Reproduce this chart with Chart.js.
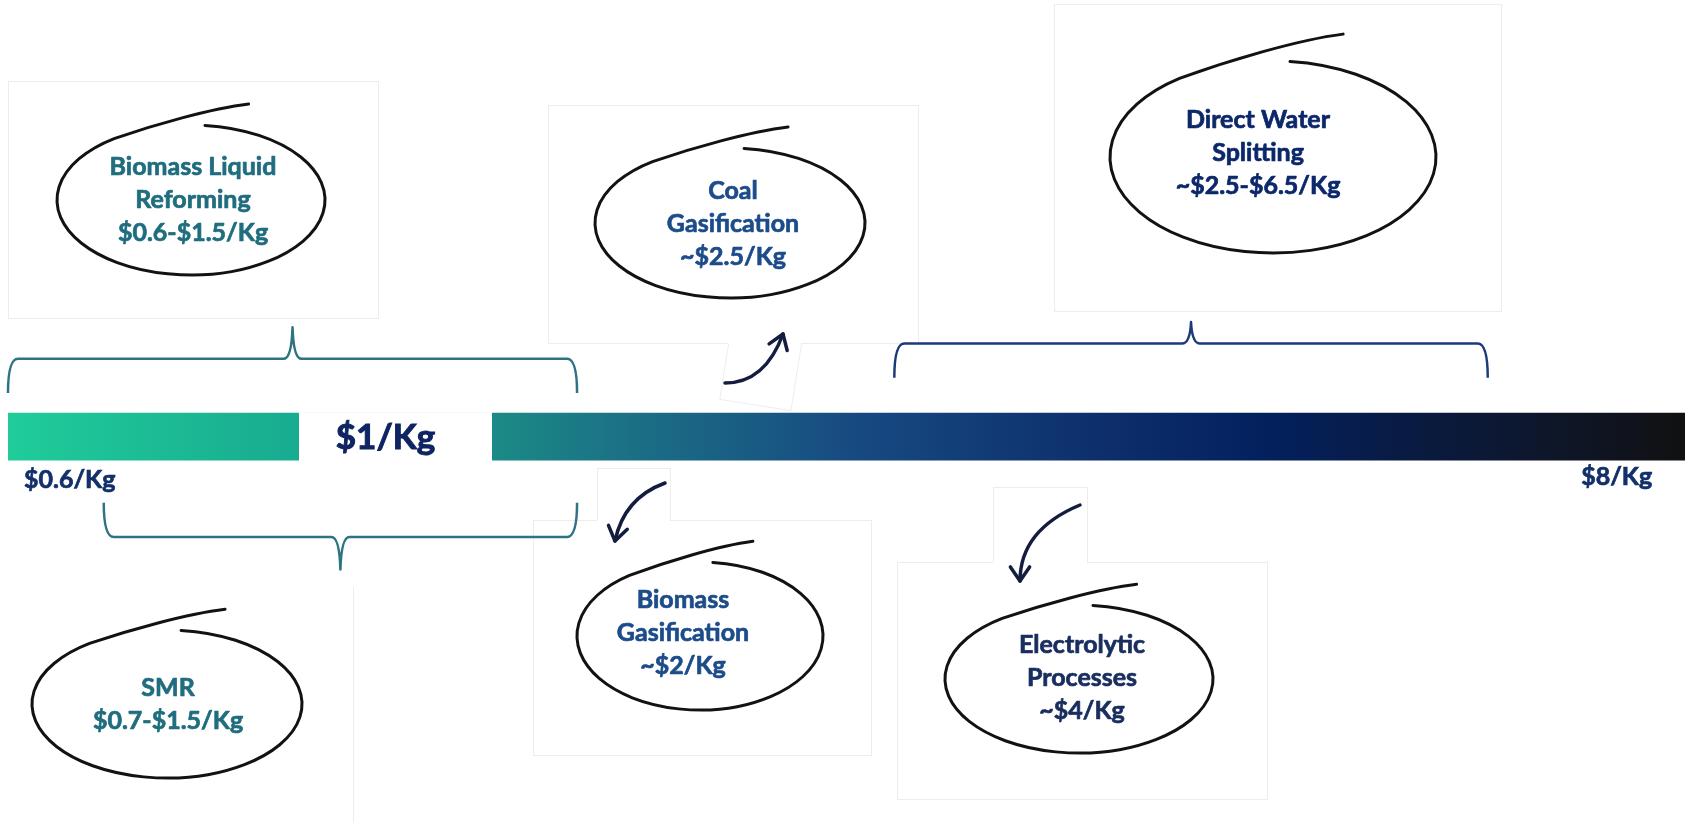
<!DOCTYPE html>
<html>
<head>
<meta charset="utf-8">
<title>Hydrogen production cost by process</title>
<script src="https://cdn.jsdelivr.net/npm/chart.js@4.4.1/dist/chart.umd.min.js"></script>
<style>
  html, body { margin: 0; padding: 0; background: #fff; }
  canvas { display: block; }
</style>
</head>
<body>
<canvas id="costChart" width="1689" height="823"></canvas>
<script>
// ---- data ----
const processNames = [
  "Biomass Liquid\nReforming",
  "SMR",
  "Direct Water\nSplitting",
  "Coal\nGasification",
  "Biomass\nGasification",
  "Electrolytic\nProcesses",
];
const costLow = [0.6, 0.7, 2.5, 2.5, 2, 4];
const costHigh = [1.5, 1.5, 6.5, 2.5, 2, 4];
const costLabels = [
  "$0.6-$1.5/Kg",
  "$0.7-$1.5/Kg",
  "~$2.5-$6.5/Kg",
  "~$2.5/Kg",
  "~$2/Kg",
  "~$4/Kg",
];
const scaleValues = [0.6, 1, 8];
const scaleLabels = ["$0.6/Kg", "$1/Kg", "$8/Kg"];

// ---- axis bounds / layout / styles ----
const AXIS_MIN = 0.6;
const AXIS_MAX = 8.93;

const FONT = "Lato, 'Open Sans', sans-serif";
const BAR = { y: 439.5, thickness: 47 };
const GAP = { left: 299, right: 492 }; // white box holding "$1/Kg"

const LAYOUT = [
  { ell: [191, 200, 134, 75], text: [193, 175], box: [8, 81, 370, 237], brace: [391, 353, 318] },
  { ell: [167, 704, 135, 74], text: [168, 696], edge: [353, 587, 823], brace: [513, 551, 587] },
  { ell: [1273, 157, 163, 96], text: [1258, 128], box: [1054, 4, 447, 307], brace: [374, 336, 312] },
  { ell: [730, 223, 135, 75], text: [733, 199], box: [548, 105, 370, 238],
    tab: { cx: 762, cy: 360, w: 72, h: 90, rot: 9 }, arrow: [725, 383, 765, 383, 783, 334] },
  { ell: [700, 636, 123, 74], text: [683, 608], box: [533, 520, 338, 235],
    tab: { cx: 633.5, cy: 494, w: 73, h: 52, rot: 0 }, arrow: [665, 483, 624, 498, 615, 541] },
  { ell: [1079, 679, 134, 74], text: [1082, 653], box: [897, 562, 370, 237],
    tab: { cx: 1040, cy: 524.5, w: 94, h: 75, rot: 0 }, arrow: [1080, 505, 1020, 530, 1020, 581] },
];

const textColors = ["#1f6d7e", "#1f6d7e", "#0c286b", "#1c4c89", "#1c4c89", "#192e5e"];
const braceColors = ["#2d7384", "#2d7384", "#1b3a7a"];
const frameColor = "#ededed";
const gradientStops = [
  [0, "#20cc9a"], [0.174, "#18ab90"], [0.289, "#1b8a86"], [0.383, "#1b6c85"],
  [0.508, "#174981"], [0.651, "#0d2f6c"], [0.753, "#03205d"], [0.848, "#0a1a3e"],
  [0.937, "#0f1525"], [1, "#111111"],
];

function boldText(ctx, t, x, y) {
  ctx.fillText(t, x, y);
  ctx.strokeText(t, x, y);
}

function drawFrame(ctx, l) {
  ctx.strokeStyle = frameColor;
  ctx.lineWidth = 1;
  if (l.box) {
    const [bx, by, bw, bh] = l.box;
    ctx.strokeRect(bx + 0.5, by + 0.5, bw, bh);
  }
  if (l.edge) {
    ctx.beginPath();
    ctx.moveTo(l.edge[0] + 0.5, l.edge[1]);
    ctx.lineTo(l.edge[0] + 0.5, l.edge[2]);
    ctx.stroke();
  }
  if (l.tab) {
    const t = l.tab;
    const [bx, by, bw, bh] = l.box;
    ctx.save();
    ctx.translate(t.cx, t.cy);
    ctx.rotate((t.rot * Math.PI) / 180);
    ctx.fillStyle = "#fff";
    ctx.fillRect(-t.w / 2, -t.h / 2 - 1, t.w, t.h + 2);
    ctx.restore();
    ctx.save();
    ctx.beginPath();
    ctx.rect(0, 0, 1689, 823);
    ctx.rect(bx, by, bw + 1, bh + 1);
    ctx.clip("evenodd");
    ctx.translate(t.cx, t.cy);
    ctx.rotate((t.rot * Math.PI) / 180);
    ctx.strokeRect(-t.w / 2 + 0.5, -t.h / 2 + 0.5, t.w, t.h);
    ctx.restore();
  }
}

function drawBrace(ctx, x1, x2, yEnd, yMid, yTip, color) {
  const xm = (x1 + x2) / 2;
  ctx.strokeStyle = color;
  ctx.lineWidth = 2.5;
  ctx.lineJoin = "round";
  ctx.beginPath();
  ctx.moveTo(x1, yEnd);
  ctx.quadraticCurveTo(x1, yMid, x1 + 10, yMid);
  ctx.lineTo(xm - 9, yMid);
  ctx.quadraticCurveTo(xm - 1, yMid, xm, yTip);
  ctx.quadraticCurveTo(xm + 1, yMid, xm + 9, yMid);
  ctx.lineTo(x2 - 10, yMid);
  ctx.quadraticCurveTo(x2, yMid, x2, yEnd);
  ctx.stroke();
}

// hand drawn loop: a flick at the top right that runs into an ellipse
function drawLoop(ctx, cx, cy, rx, ry) {
  const ja = (-125 * Math.PI) / 180;
  const ea = (-84 * Math.PI) / 180 - 2 * Math.PI;
  ctx.strokeStyle = "#121212";
  ctx.lineWidth = 3;
  ctx.lineCap = "round";
  ctx.beginPath();
  ctx.moveTo(cx + 0.43 * rx, cy - 1.28 * ry);
  ctx.bezierCurveTo(
    cx + 0.15 * rx, cy - 1.22 * ry,
    cx - 0.28 * rx, cy - 1.0 * ry,
    cx + rx * Math.cos(ja), cy + ry * Math.sin(ja)
  );
  ctx.ellipse(cx, cy, rx, ry, 0, ja, ea, true);
  ctx.stroke();
}

function drawArrow(ctx, a) {
  const [x0, y0, qx, qy, x1, y1] = a;
  ctx.strokeStyle = "#151d3f";
  ctx.lineWidth = 3.5;
  ctx.lineCap = "round";
  ctx.lineJoin = "round";
  ctx.beginPath();
  ctx.moveTo(x0, y0);
  ctx.quadraticCurveTo(qx, qy, x1, y1);
  ctx.stroke();
  const back = Math.atan2(qy - y1, qx - x1);
  ctx.beginPath();
  ctx.moveTo(x1 + 17 * Math.cos(back - 0.6), y1 + 17 * Math.sin(back - 0.6));
  ctx.lineTo(x1, y1);
  ctx.lineTo(x1 + 17 * Math.cos(back + 0.6), y1 + 17 * Math.sin(back + 0.6));
  ctx.stroke();
}

const calloutPlugin = {
  id: "callouts",
  beforeDatasetsDraw(chart) {
    const ctx = chart.ctx;
    ctx.save();
    LAYOUT.forEach((l) => drawFrame(ctx, l));
    ctx.restore();
  },
  afterDatasetsDraw(chart) {
    const ctx = chart.ctx;
    const xs = chart.scales.x;
    const ys = chart.scales.y;
    ctx.save();

    // $1/Kg box cut into the bar
    const top = ys.getPixelForValue(BAR.y) - BAR.thickness / 2;
    ctx.fillStyle = "#fff";
    ctx.fillRect(GAP.left, top - 1, GAP.right - GAP.left, BAR.thickness + 2);
    ctx.textBaseline = "alphabetic";
    ctx.textAlign = "center";
    ctx.fillStyle = ctx.strokeStyle = "#0f2462";
    ctx.lineWidth = 1;
    ctx.font = "bold 35px " + FONT;
    boldText(ctx, scaleLabels[1], (GAP.left + GAP.right) / 2 - 10, ys.getPixelForValue(453));

    // end labels of the scale
    ctx.fillStyle = ctx.strokeStyle = "#13306b";
    ctx.lineWidth = 0.7;
    ctx.font = "bold 25px " + FONT;
    ctx.textAlign = "left";
    boldText(ctx, scaleLabels[0], xs.getPixelForValue(scaleValues[0]) + 16, ys.getPixelForValue(497));
    ctx.textAlign = "center";
    boldText(ctx, scaleLabels[2], xs.getPixelForValue(scaleValues[2]), ys.getPixelForValue(493));
    ctx.restore();

    processNames.forEach((name, i) => {
      const l = LAYOUT[i];
      ctx.save();
      if (costHigh[i] > costLow[i]) {
        drawBrace(
          ctx,
          xs.getPixelForValue(costLow[i]),
          xs.getPixelForValue(costHigh[i]),
          ys.getPixelForValue(l.brace[0]),
          ys.getPixelForValue(l.brace[1]),
          ys.getPixelForValue(l.brace[2]),
          braceColors[i]
        );
      } else {
        drawArrow(ctx, l.arrow);
      }
      drawLoop(ctx, l.ell[0], l.ell[1], l.ell[2], l.ell[3]);

      const lines = name.split("\n").concat(costLabels[i]);
      ctx.fillStyle = ctx.strokeStyle = textColors[i];
      ctx.lineWidth = 0.7;
      ctx.lineJoin = "round";
      ctx.font = "bold 25px " + FONT;
      ctx.textAlign = "center";
      ctx.textBaseline = "alphabetic";
      lines.forEach((t, k) => boldText(ctx, t, l.text[0], l.text[1] + k * 33));
      ctx.restore();
    });
  },
};

function draw() {
  const ctx = document.getElementById("costChart").getContext("2d");
  new Chart(ctx, {
    type: "bar",
    data: {
      datasets: [
        {
          label: "Cost range",
          data: [{ y: BAR.y, x: [AXIS_MIN, AXIS_MAX] }],
          barThickness: BAR.thickness,
          borderWidth: 0,
          borderSkipped: false,
          backgroundColor: (c) => {
            const area = c.chart.chartArea;
            if (!area) return "#1b6c85";
            const g = c.chart.ctx.createLinearGradient(area.left, 0, area.right, 0);
            gradientStops.forEach(([o, col]) => g.addColorStop(o, col));
            return g;
          },
        },
      ],
    },
    options: {
      indexAxis: "y",
      responsive: false,
      animation: false,
      events: [],
      layout: { padding: { left: 8, right: 4, top: 0, bottom: 0 } },
      plugins: {
        legend: { display: false },
        tooltip: { enabled: false },
      },
      scales: {
        x: { type: "logarithmic", min: AXIS_MIN, max: AXIS_MAX, display: false },
        y: { type: "linear", min: 0, max: 823, reverse: true, display: false },
      },
    },
    plugins: [calloutPlugin],
  });
}

document.fonts.load("bold 25px Lato").then(draw, draw);
</script>
</body>
</html>
